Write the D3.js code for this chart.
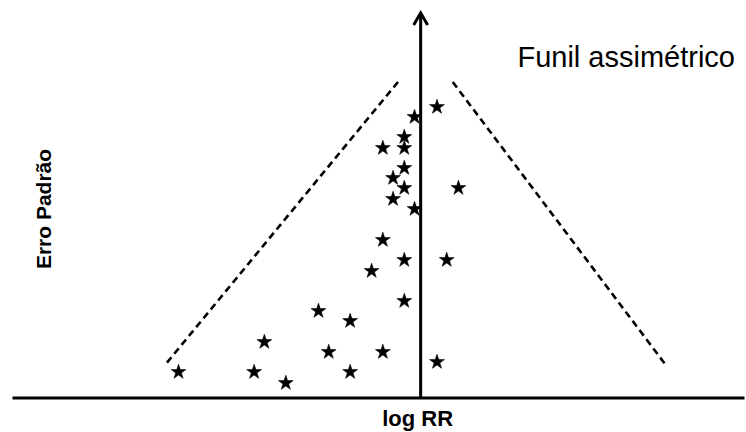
<!DOCTYPE html>
<html>
<head>
<meta charset="utf-8">
<script src="https://cdn.jsdelivr.net/npm/d3@7"></script>
<style>
  html, body { margin: 0; padding: 0; background: #ffffff; }
  svg { display: block; }
</style>
</head>
<body>
<svg id="chart" width="746" height="432"></svg>
<script>
// ---- data (log RR vs. standard error) ----
const logRR = [0.16, -0.06, -0.16, -0.37, -0.16, -0.16, -0.27, -0.16, 0.37, -0.27,
               -0.06, -0.37, -0.16, 0.255, -0.48, -0.16, -1.0, -0.69, -1.53, -0.90,
               -0.37, 0.16, -2.37, -1.63, -0.69, -1.32];
const stdErr = [0.28, 0.38, 0.58, 0.69, 0.69, 0.89, 0.99, 1.09, 1.09, 1.20,
                1.30, 1.61, 1.81, 1.81, 1.92, 2.22, 2.32, 2.42, 2.63, 2.73,
                2.73, 2.83, 2.93, 2.93, 2.93, 3.04];
// funnel boundary lines: [logRR, SE]
const funnelLeft  = [[-0.222, 0.02], [-2.502, 2.85]];
const funnelRight = [[0.314, 0.02], [2.392, 2.84]];
const xDomain = [-4, 3.165];
const yDomain = [0, 3.175];
const arrowTipSE = -0.68;
const title = "Funil assimétrico";
const xLabel = "log RR";
const yLabel = "Erro Padrão";

// ---- drawing ----
const svg = d3.select("#chart");
const x = d3.scaleLinear().domain(xDomain).range([12, 744]);
const y = d3.scaleLinear().domain(yDomain).range([80, 397.5]);

// horizontal axis (log RR)
const xAxis = d3.axisBottom(x).tickValues([]).tickSizeOuter(0);
const gx = svg.append("g").attr("transform", `translate(0,${y(yDomain[1])})`).call(xAxis);
gx.select(".domain").attr("stroke", "#000").attr("stroke-width", 3);

// vertical axis with arrow
const x0 = x(0);
const tipY = y(arrowTipSE);
svg.append("line")
  .attr("x1", x0).attr("x2", x0)
  .attr("y1", y(yDomain[1])).attr("y2", tipY + 2)
  .attr("stroke", "#000").attr("stroke-width", 3);
svg.append("path")
  .attr("d", `M${x0 - 7},${tipY + 13} L${x0},${tipY + 1} L${x0 + 7},${tipY + 13}`)
  .attr("fill", "none").attr("stroke", "#000").attr("stroke-width", 3)
  .attr("stroke-linejoin", "miter");

// funnel dashed lines
const line = d3.line().x(d => x(d[0])).y(d => y(d[1]));
[funnelLeft, funnelRight].forEach(pts => {
  svg.append("path")
    .attr("d", line(pts))
    .attr("fill", "none")
    .attr("stroke", "#000")
    .attr("stroke-width", 2.6)
    .attr("stroke-dasharray", "7,4.5");
});

// stars
const star = d3.symbol().type(d3.symbolStar).size(68);
svg.append("g").selectAll("path")
  .data(logRR.map((v, i) => [v, stdErr[i]]))
  .join("path")
  .attr("d", star)
  .attr("transform", d => `translate(${x(d[0])},${y(d[1]) - 1})`)
  .attr("fill", "#000")
  .attr("stroke", "#000")
  .attr("stroke-width", 0.6);

// texts
svg.append("text")
  .attr("x", 735).attr("y", 67)
  .attr("text-anchor", "end")
  .attr("font-family", "Liberation Sans, Arial, sans-serif")
  .attr("font-size", 29)
  .attr("fill", "#000")
  .text(title);

svg.append("text")
  .attr("x", x0 - 3).attr("y", 426)
  .attr("text-anchor", "middle")
  .attr("font-family", "Liberation Sans, Arial, sans-serif")
  .attr("font-weight", "bold")
  .attr("font-size", 22)
  .attr("fill", "#000")
  .text(xLabel);

svg.append("text")
  .attr("transform", "translate(51,209) rotate(-90)")
  .attr("text-anchor", "middle")
  .attr("font-family", "Liberation Sans, Arial, sans-serif")
  .attr("font-weight", "bold")
  .attr("font-size", 21)
  .attr("fill", "#000")
  .text(yLabel);
</script>
</body>
</html>
